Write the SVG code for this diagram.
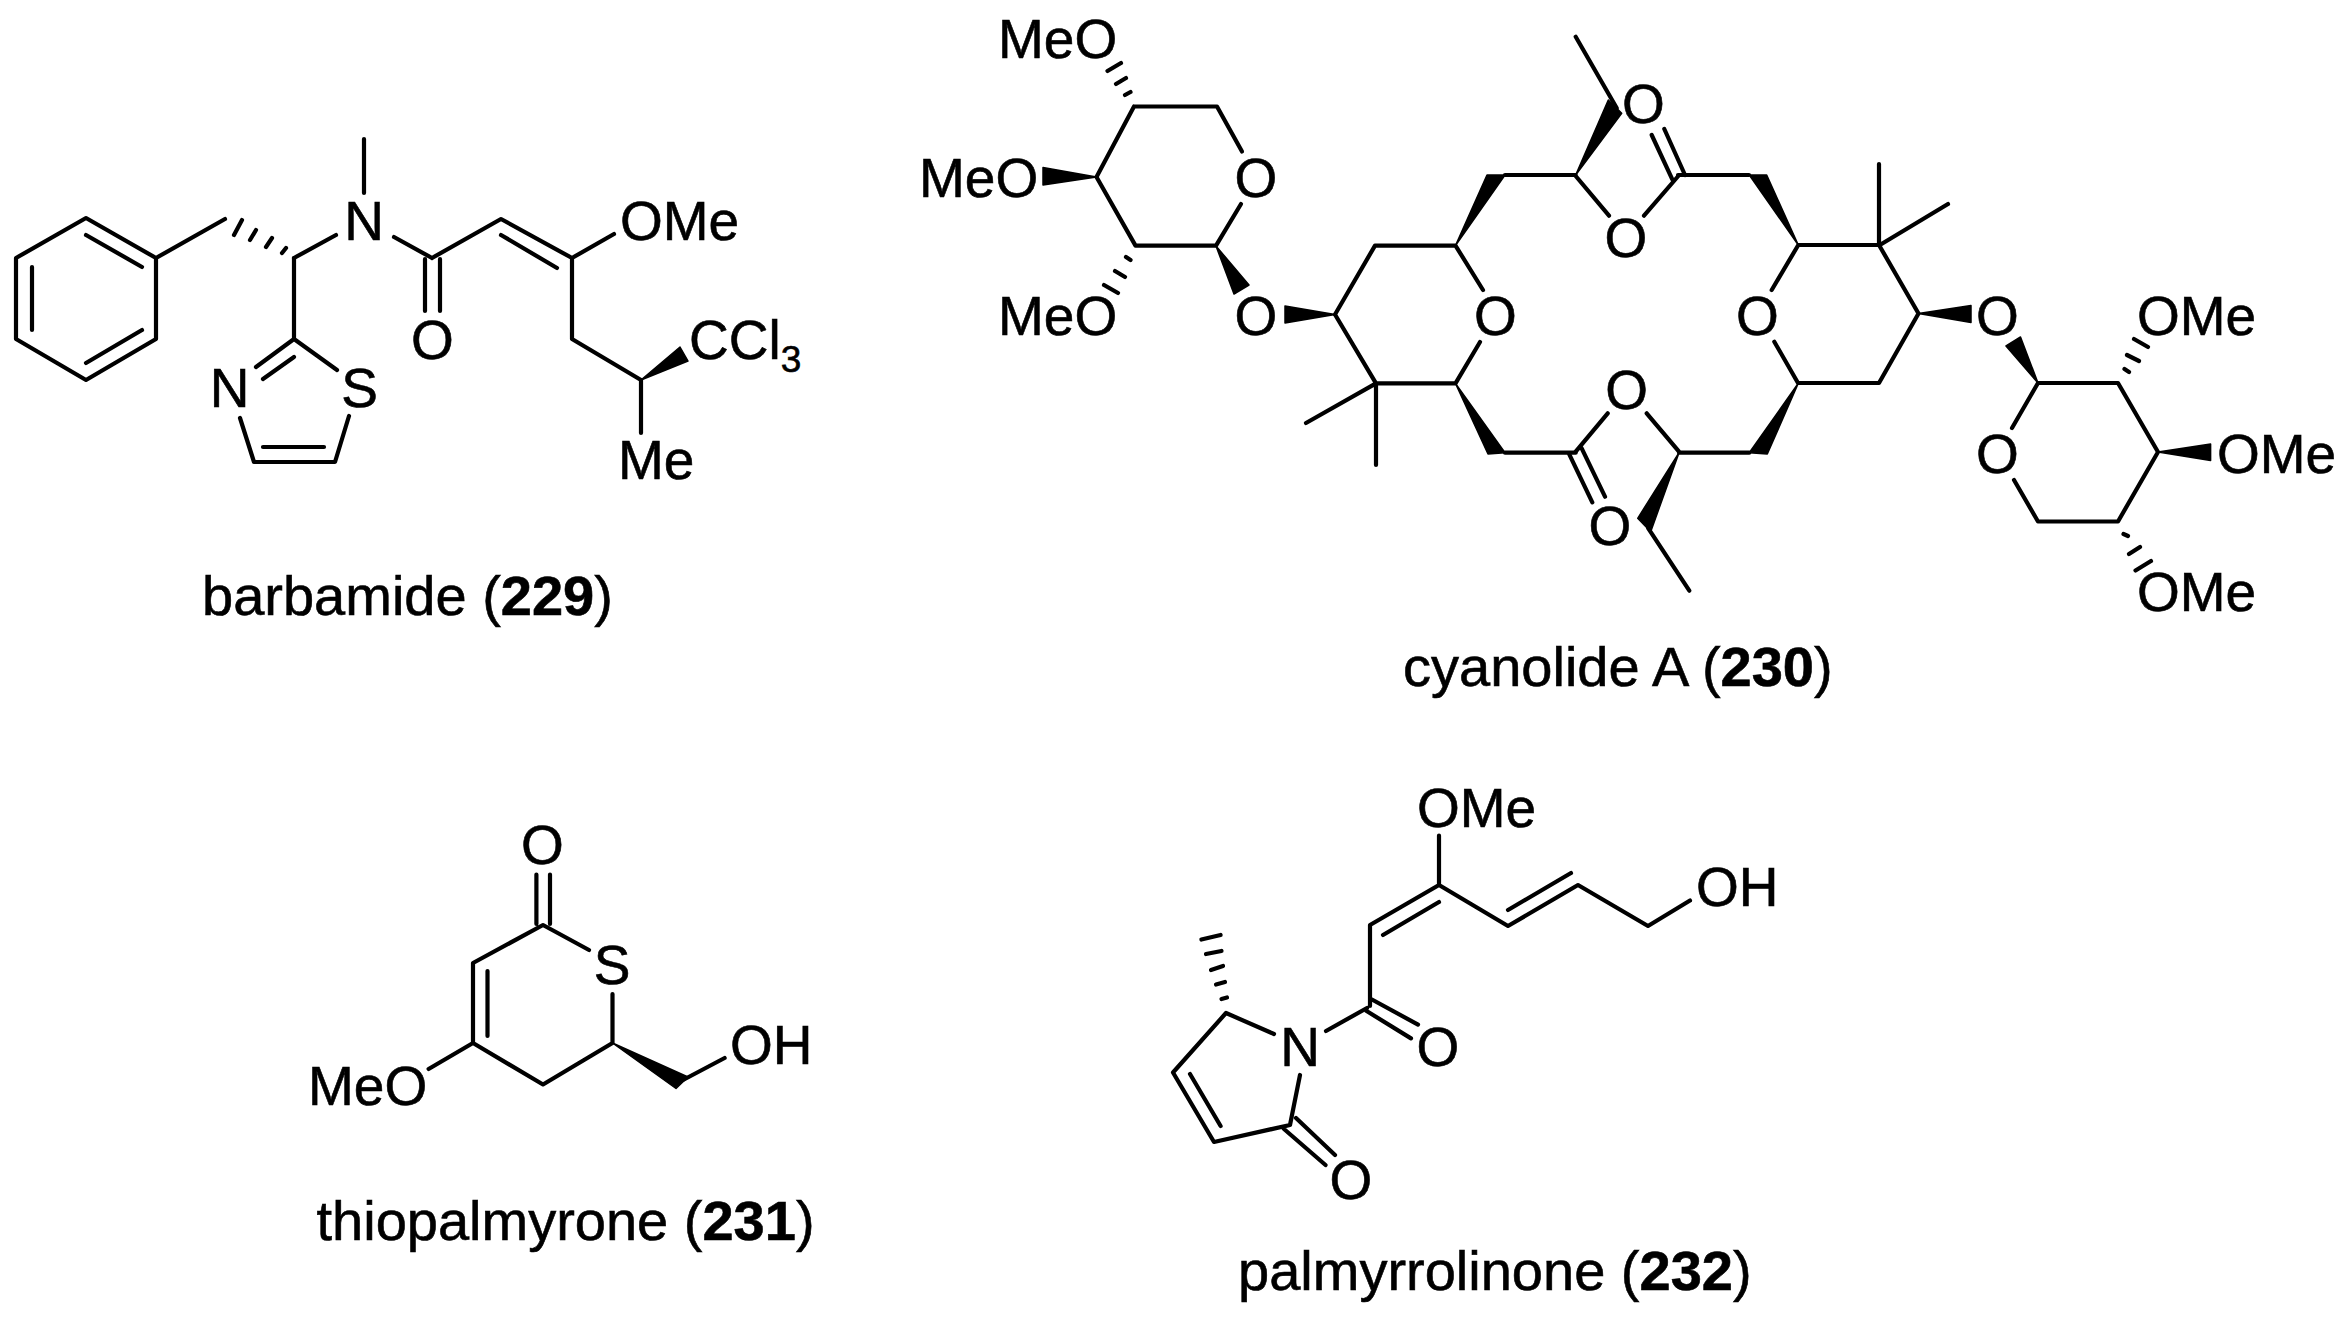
<svg xmlns="http://www.w3.org/2000/svg" width="2351" height="1326" viewBox="0 0 2351 1326">
<style>
text{font-family:"Liberation Sans",Arial,sans-serif;font-size:55px;fill:#000;stroke:#000;stroke-width:.6}
.c{text-anchor:middle}
.cap{font-size:56px}
.bd{font-weight:bold}
.sub{font-size:37px}
.b{stroke:#000;stroke-width:4.2;fill:none;stroke-linecap:round;stroke-linejoin:round}
.h{stroke:#000;stroke-width:4.2;fill:none;stroke-linecap:round}
.w{fill:#000;stroke:#000;stroke-width:1.5;stroke-linejoin:round}
</style>
<rect width="2351" height="1326" fill="#fff"/>
<g id="connectors">
<g id="bonds-229">
<path class="b" d="M86 218L156 258V339L86 380L16 339V258ZM86 235L142 267M142 330L86 363M32 267V330M156 258L225 219"/>
<path class="h" d="M242 220L234 235M256 230L250 240M272 238L266 247M286 248L282 253"/>
<path class="b" d="M364 139V193M294 258L336 235M394 237L432 258M425 259V311M440 259V311M432 258L501 219L572 258M501 235L557 268M572 258L614 234M572 258V339L641 380M641 380V433"/>
<polygon class="w" points="641,380 680,347 688,361"/>
<path class="b" d="M294 258V339M294 339L337 370M294 339L256 367M294 357L263 379M240 418L254 462H335L349 416M263 447H324"/>
</g>
<g id="bonds-230">
<path class="b" d="M1134 106.500H1217L1242 151.500M1241 204L1216 245.600H1135.500L1096.500 177L1134 106.500"/>
<path class="h" d="M1107.500 71L1121 63M1116 84L1126 78M1125 95L1130.500 92M1104 285L1118 293M1115 271L1125 277M1126 257L1130.500 260"/>
<polygon class="w" points="1096.500,177 1043,167.600 1043,185"/>
<polygon class="w" points="1216,246 1249,285 1234,294"/>
<polygon class="w" points="1335,314.500 1285,306 1285,323"/>
<path class="b" d="M1335 314.500L1375 245.600H1455.500L1483 290M1480 342L1455.500 383.400H1376L1335 314.500M1376 383.400L1306 423M1376 383.400V465"/>
<polygon class="w" points="1455.500,245.600 1487,175 1505,175"/>
<polygon class="w" points="1455.500,383.400 1488,454 1505,452.700"/>
<path class="b" d="M1505 175H1575.700M1505 452.700H1575.700M1575.700 36.700L1616.700 108M1575.700 176L1609 215.700M1644 215.700L1678.300 176M1651.700 135L1672.300 179.300M1664.300 129L1685 175M1678 175H1749M1771.700 290L1798.300 245H1879L1918.500 313.500L1879 383H1798L1774.300 341.700M1879 245.500V164M1879 245.500L1948 204"/>
<polygon class="w" points="1575.700,175 1608.300,100 1621.700,113.300"/>
<polygon class="w" points="1798.300,245 1749.300,175 1766.700,175"/>
<polygon class="w" points="1798.300,383.300 1749.300,452.700 1767.300,454"/>
<path class="b" d="M1575.700 451.700L1607.700 413.300M1646.700 413.300L1679 451.700M1679 452.700H1749.300M1569.300 454.300L1592.300 502.300M1581.700 448.300L1605 496.700M1648.300 528.300L1689.300 590.700"/>
<polygon class="w" points="1679,452.700 1637.700,518.300 1650.700,531.700"/>
<polygon class="w" points="1918.500,313.500 1971,305.600 1971,322.600"/>
<polygon class="w" points="2038,383 2020.500,337 2006,346"/>
<path class="b" d="M2012 428L2038 383H2118L2158 452L2118 521.500H2038L2014 480"/>
<path class="h" d="M2134 339L2148 347M2127 355L2139 361M2124.500 369L2129 372M2135.500 570.500L2151 561M2129 554L2140 547M2123.500 534L2128 536"/>
<polygon class="w" points="2158,452 2210.600,444 2210.600,460.600"/>
</g>
<g id="bonds-231">
<path class="b" d="M536.400 874.500V924M550 874.500V924M589 950L543 925L473 963V1043L543 1084.500L612.500 1043V994M487.500 971V1036M473 1043L428.600 1069M683 1080L724.600 1058"/>
<polygon class="w" points="612.500,1043 676,1088.500 688,1077"/>
</g>
<g id="bonds-232">
<path class="b" d="M1439 835.600V885L1370 925V1006M1439 902L1383 935M1439 885L1508 926L1578 885L1648 926L1690 900.500M1508 910L1571 873M1367 1008L1326 1031M1371 999L1418 1024.600M1366.600 1011L1411 1038.400M1274 1034L1226 1013L1173 1072.500L1214 1142L1290 1125L1300 1075M1190 1074L1220.600 1126M1296 1118L1335 1155M1284 1129L1325.500 1165"/>
<path class="h" d="M1201.400 939.500L1220.600 935M1206 954L1221.500 951M1211 970L1223 966M1216 984.500L1225 982M1221.500 999L1227 997.500"/>
</g>
</g>
<g id="mol-229">
<text class="c" x="364" y="240">N</text>
<text x="620" y="240">OMe</text>
<text class="c" x="432.500" y="359">O</text>
<text x="689" y="359">CCl<tspan class="sub" dy="13">3</tspan></text>
<text x="618" y="479">Me</text>
<text class="c" x="229.500" y="407">N</text>
<text class="c" x="359.500" y="407">S</text>
<text class="cap" x="202" y="615">barbamide (<tspan class="bd">229</tspan>)</text>
</g>
<g id="mol-230">
<text x="998" y="58">MeO</text>
<text x="919" y="197">MeO</text>
<text x="998" y="335">MeO</text>
<text class="c" x="1256" y="197">O</text>
<text class="c" x="1256" y="335">O</text>
<text class="c" x="1495.500" y="335">O</text>
<text class="c" x="1643.300" y="123">O</text>
<text class="c" x="1626" y="257">O</text>
<text class="c" x="1626.700" y="409">O</text>
<text class="c" x="1610" y="545">O</text>
<text class="c" x="1757.300" y="335">O</text>
<text class="c" x="1997.500" y="335">O</text>
<text class="c" x="1997.500" y="473">O</text>
<text x="2137" y="335">OMe</text>
<text x="2217" y="473">OMe</text>
<text x="2137" y="611">OMe</text>
<text class="cap" x="1403" y="686">cyanolide A (<tspan class="bd">230</tspan>)</text>
</g>
<g id="mol-231">
<text class="c" x="542.500" y="864">O</text>
<text class="c" x="612" y="984">S</text>
<text x="730" y="1064">OH</text>
<text x="308" y="1105">MeO</text>
<text class="cap" x="316.500" y="1240">thiopalmyrone (<tspan class="bd">231</tspan>)</text>
</g>
<g id="mol-232">
<text x="1417" y="827">OMe</text>
<text x="1696" y="906">OH</text>
<text class="c" x="1438" y="1066">O</text>
<text class="c" x="1300" y="1066">N</text>
<text class="c" x="1351" y="1199">O</text>
<text class="cap" x="1238" y="1290">palmyrrolinone (<tspan class="bd">232</tspan>)</text>
</g>
</svg>
